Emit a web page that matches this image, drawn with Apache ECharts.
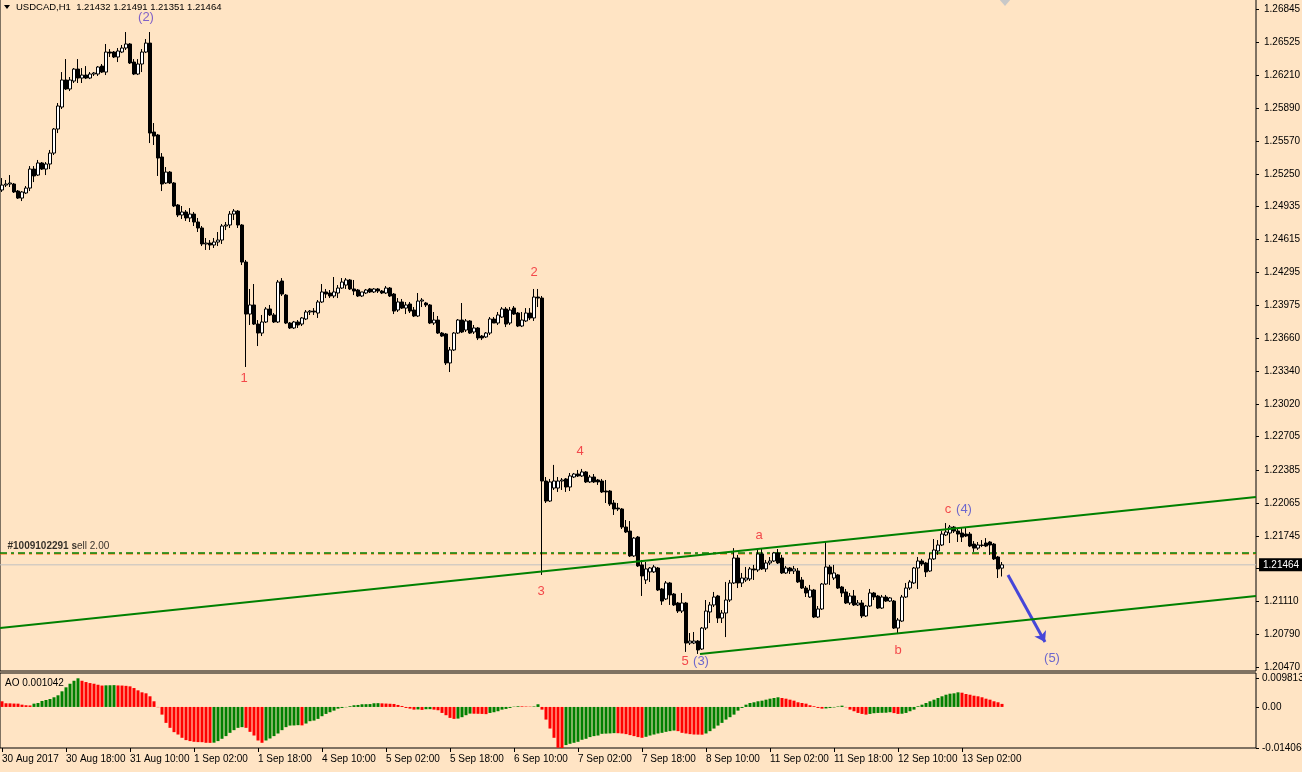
<!DOCTYPE html>
<html>
<head>
<meta charset="utf-8">
<title>USDCAD,H1</title>
<script src="https://cdn.jsdelivr.net/npm/echarts@6/dist/echarts.min.js"></script>
<style>
  html, body { margin: 0; padding: 0; background: #ffe4c4; }
  #chart { width: 1302px; height: 772px; }
</style>
</head>
<body>
<div id="chart"></div>
<script>
const symbolName = 'USDCAD,H1';

// hourly bars from 30 Aug 02:00, each row: [open, high, low, close]
const bars = [
  [1.25096,1.25212,1.25077,1.25144],[1.25144,1.25193,1.25125,1.25154],[1.25154,1.25241,1.25125,1.25164],[1.25154,1.25164,1.25067,1.25077],
  [1.25086,1.25096,1.25009,1.25018],[1.25018,1.25086,1.24989,1.25077],[1.25067,1.25135,1.25057,1.25115],[1.25115,1.25328,1.25086,1.25299],
  [1.25299,1.25328,1.25173,1.25232],[1.25241,1.25387,1.25232,1.25358],[1.25358,1.25367,1.25290,1.25299],[1.25299,1.25367,1.25241,1.25348],
  [1.25348,1.25484,1.25299,1.25454],[1.25454,1.25697,1.25435,1.25687],[1.25687,1.25939,1.25648,1.25910],[1.25900,1.26239,1.25881,1.26162],
  [1.26162,1.26365,1.26065,1.26075],[1.26075,1.26191,1.26055,1.26162],[1.26152,1.26278,1.26133,1.26268],[1.26268,1.26365,1.26133,1.26181],
  [1.26181,1.26278,1.26133,1.26210],[1.26210,1.26297,1.26171,1.26181],[1.26181,1.26239,1.26171,1.26220],[1.26220,1.26239,1.26201,1.26230],
  [1.26220,1.26297,1.26201,1.26288],[1.26297,1.26317,1.26230,1.26239],[1.26239,1.26511,1.26210,1.26433],[1.26433,1.26462,1.26385,1.26423],
  [1.26433,1.26443,1.26375,1.26385],[1.26385,1.26472,1.26336,1.26443],[1.26433,1.26501,1.26423,1.26472],[1.26472,1.26627,1.26453,1.26511],
  [1.26511,1.26520,1.26317,1.26327],[1.26336,1.26365,1.26210,1.26220],[1.26220,1.26365,1.26210,1.26317],[1.26317,1.26462,1.26239,1.26433],
  [1.26433,1.26559,1.26423,1.26520],[1.26520,1.26627,1.25551,1.25648],[1.25658,1.25745,1.25532,1.25619],[1.25629,1.25639,1.25232,1.25406],
  [1.25416,1.25454,1.25086,1.25154],[1.25164,1.25319,1.25154,1.25270],[1.25270,1.25280,1.25154,1.25164],[1.25164,1.25173,1.24931,1.24941],
  [1.24951,1.24960,1.24834,1.24854],[1.24854,1.24941,1.24815,1.24883],[1.24883,1.24902,1.24796,1.24825],[1.24825,1.24921,1.24786,1.24863],
  [1.24863,1.24883,1.24747,1.24786],[1.24786,1.24825,1.24689,1.24728],[1.24728,1.24747,1.24553,1.24573],[1.24573,1.24631,1.24515,1.24582],
  [1.24582,1.24611,1.24515,1.24563],[1.24563,1.24631,1.24534,1.24592],[1.24592,1.24689,1.24553,1.24611],[1.24611,1.24766,1.24573,1.24747],
  [1.24747,1.24786,1.24708,1.24757],[1.24757,1.24892,1.24728,1.24863],[1.24863,1.24912,1.24805,1.24892],[1.24892,1.24902,1.24728,1.24757],
  [1.24757,1.24766,1.24369,1.24398],[1.24398,1.24418,1.23381,1.23894],[1.23894,1.24137,1.23788,1.23982],[1.23982,1.24185,1.23788,1.23797],
  [1.23797,1.23836,1.23584,1.23710],[1.23710,1.23885,1.23681,1.23817],[1.23817,1.23962,1.23807,1.23943],[1.23943,1.23982,1.23875,1.23885],
  [1.23885,1.23904,1.23807,1.23817],[1.23817,1.24224,1.23807,1.24204],[1.24214,1.24243,1.24069,1.24088],[1.24078,1.24088,1.23797,1.23807],
  [1.23807,1.23817,1.23749,1.23759],[1.23759,1.23827,1.23749,1.23817],[1.23817,1.23836,1.23759,1.23788],[1.23797,1.23865,1.23778,1.23856],
  [1.23846,1.23933,1.23836,1.23914],[1.23914,1.23933,1.23885,1.23923],[1.23923,1.23952,1.23885,1.23914],[1.23904,1.24030,1.23856,1.24011],
  [1.24011,1.24185,1.24001,1.24108],[1.24108,1.24137,1.24049,1.24088],[1.24098,1.24127,1.24049,1.24069],[1.24069,1.24253,1.24049,1.24108],
  [1.24098,1.24175,1.24049,1.24146],[1.24146,1.24243,1.24137,1.24204],[1.24175,1.24243,1.24137,1.24224],[1.24224,1.24233,1.24127,1.24137],
  [1.24137,1.24224,1.24078,1.24117],[1.24127,1.24137,1.24059,1.24069],[1.24069,1.24108,1.24059,1.24108],[1.24098,1.24137,1.24088,1.24127],
  [1.24137,1.24146,1.24098,1.24108],[1.24108,1.24146,1.24098,1.24137],[1.24137,1.24146,1.24098,1.24117],[1.24117,1.24127,1.24088,1.24098],
  [1.24098,1.24166,1.24088,1.24146],[1.24146,1.24156,1.24059,1.24069],[1.24088,1.24098,1.23894,1.23923],[1.23933,1.24049,1.23914,1.24011],
  [1.24011,1.24040,1.23943,1.23952],[1.23952,1.24011,1.23894,1.23982],[1.23991,1.24011,1.23904,1.23923],[1.23933,1.23962,1.23865,1.23875],
  [1.23875,1.24098,1.23865,1.24020],[1.24020,1.24049,1.23962,1.24030],[1.24001,1.24011,1.23962,1.23982],[1.23982,1.23991,1.23797,1.23807],
  [1.23807,1.23914,1.23788,1.23836],[1.23836,1.23875,1.23701,1.23710],[1.23710,1.23720,1.23672,1.23681],[1.23701,1.23710,1.23400,1.23420],
  [1.23420,1.23575,1.23332,1.23546],[1.23546,1.23720,1.23536,1.23710],[1.23710,1.23846,1.23701,1.23836],[1.23836,1.24001,1.23710,1.23720],
  [1.23739,1.23846,1.23720,1.23827],[1.23827,1.23836,1.23701,1.23710],[1.23720,1.23788,1.23701,1.23759],[1.23759,1.23768,1.23642,1.23662],
  [1.23681,1.23691,1.23642,1.23662],[1.23672,1.23720,1.23662,1.23710],[1.23710,1.23865,1.23691,1.23846],[1.23846,1.23865,1.23807,1.23807],
  [1.23807,1.23914,1.23788,1.23885],[1.23865,1.23962,1.23856,1.23943],[1.23943,1.23962,1.23768,1.23797],[1.23807,1.23962,1.23788,1.23933],
  [1.23952,1.23972,1.23885,1.23894],[1.23904,1.23914,1.23768,1.23778],[1.23778,1.23914,1.23768,1.23836],[1.23827,1.23952,1.23817,1.23904],
  [1.23904,1.23952,1.23836,1.23856],[1.23856,1.24137,1.23827,1.24059],[1.24059,1.24137,1.23962,1.24049],[1.24049,1.24069,1.21366,1.22276],
  [1.22276,1.22315,1.22063,1.22082],[1.22082,1.22296,1.22073,1.22267],[1.22208,1.22432,1.22189,1.22276],[1.22208,1.22315,1.22170,1.22276],
  [1.22276,1.22305,1.22189,1.22286],[1.22296,1.22305,1.22170,1.22218],[1.22218,1.22354,1.22179,1.22325],[1.22315,1.22354,1.22305,1.22344],
  [1.22344,1.22383,1.22315,1.22325],[1.22325,1.22393,1.22315,1.22364],[1.22364,1.22373,1.22257,1.22267],[1.22267,1.22335,1.22257,1.22315],
  [1.22315,1.22344,1.22257,1.22267],[1.22286,1.22296,1.22238,1.22267],[1.22276,1.22296,1.22160,1.22170],[1.22179,1.22286,1.22063,1.22170],
  [1.22179,1.22189,1.22034,1.22053],[1.22063,1.22092,1.21947,1.22005],[1.22014,1.22063,1.21985,1.22005],[1.22005,1.22014,1.21811,1.21830],
  [1.21830,1.21898,1.21772,1.21782],[1.21791,1.21888,1.21540,1.21550],[1.21550,1.21733,1.21540,1.21723],[1.21733,1.21743,1.21443,1.21453],
  [1.21463,1.21511,1.21162,1.21356],[1.21317,1.21492,1.21278,1.21424],[1.21395,1.21443,1.21298,1.21433],[1.21395,1.21463,1.21385,1.21443],
  [1.21433,1.21443,1.21210,1.21220],[1.21230,1.21239,1.21075,1.21113],[1.21133,1.21307,1.21123,1.21288],[1.21288,1.21298,1.21075,1.21172],
  [1.21181,1.21191,1.21065,1.21075],[1.21094,1.21104,1.20997,1.21016],[1.21016,1.21191,1.20997,1.21094],[1.21094,1.21104,1.20620,1.20706],
  [1.20706,1.20803,1.20687,1.20725],[1.20706,1.20813,1.20696,1.20725],[1.20725,1.20735,1.20600,1.20639],[1.20648,1.20861,1.20639,1.20851],
  [1.20851,1.21123,1.20832,1.21016],[1.21007,1.21104,1.20900,1.21075],[1.21075,1.21201,1.21055,1.21152],[1.21162,1.21172,1.20900,1.20948],
  [1.20948,1.21026,1.20900,1.20997],[1.20997,1.21298,1.20764,1.21123],[1.21123,1.21317,1.21104,1.21288],[1.21288,1.21626,1.21278,1.21530],
  [1.21530,1.21560,1.21239,1.21288],[1.21288,1.21385,1.21249,1.21336],[1.21317,1.21443,1.21298,1.21336],[1.21327,1.21443,1.21307,1.21424],
  [1.21424,1.21463,1.21317,1.21414],[1.21414,1.21608,1.21395,1.21569],[1.21569,1.21617,1.21414,1.21424],[1.21424,1.21511,1.21395,1.21482],
  [1.21482,1.21540,1.21463,1.21501],[1.21501,1.21589,1.21492,1.21579],[1.21579,1.21617,1.21472,1.21482],[1.21530,1.21560,1.21375,1.21385],
  [1.21385,1.21453,1.21375,1.21433],[1.21433,1.21443,1.21375,1.21404],[1.21404,1.21453,1.21375,1.21424],[1.21404,1.21433,1.21288,1.21298],
  [1.21317,1.21346,1.21230,1.21239],[1.21239,1.21259,1.21152,1.21191],[1.21152,1.21269,1.21143,1.21220],[1.21220,1.21230,1.20948,1.20958],
  [1.20958,1.21065,1.20948,1.21036],[1.21036,1.21288,1.21026,1.21278],[1.21278,1.21685,1.21269,1.21443],[1.21443,1.21463,1.21269,1.21375],
  [1.21336,1.21463,1.21317,1.21385],[1.21366,1.21375,1.21230,1.21239],[1.21249,1.21259,1.21152,1.21191],[1.21201,1.21230,1.21084,1.21094],
  [1.21094,1.21191,1.21075,1.21162],[1.21162,1.21220,1.21065,1.21075],[1.21075,1.21123,1.21065,1.21094],[1.21094,1.21123,1.20948,1.20968],
  [1.20968,1.21075,1.20958,1.21065],[1.21065,1.21230,1.21055,1.21191],[1.21191,1.21201,1.21123,1.21152],[1.21162,1.21172,1.21036,1.21045],
  [1.21045,1.21172,1.21036,1.21152],[1.21152,1.21172,1.21104,1.21113],[1.21113,1.21152,1.21104,1.21143],[1.21113,1.21123,1.20842,1.20851],
  [1.20851,1.20948,1.20793,1.20929],[1.20919,1.21172,1.20910,1.21152],[1.21152,1.21288,1.21143,1.21239],[1.21239,1.21317,1.21220,1.21298],
  [1.21288,1.21443,1.21278,1.21433],[1.21433,1.21540,1.21230,1.21501],[1.21501,1.21521,1.21453,1.21472],[1.21482,1.21492,1.21346,1.21395],
  [1.21404,1.21579,1.21395,1.21521],[1.21521,1.21714,1.21511,1.21608],[1.21598,1.21704,1.21560,1.21656],[1.21656,1.21791,1.21646,1.21762],
  [1.21753,1.21869,1.21743,1.21782],[1.21772,1.21850,1.21675,1.21830],[1.21830,1.21840,1.21772,1.21791],[1.21791,1.21811,1.21685,1.21762],
  [1.21772,1.21820,1.21685,1.21733],[1.21762,1.21830,1.21733,1.21743],[1.21762,1.21782,1.21636,1.21646],[1.21665,1.21694,1.21589,1.21626],
  [1.21626,1.21685,1.21608,1.21656],[1.21656,1.21704,1.21636,1.21651],[1.21675,1.21723,1.21636,1.21646],[1.21685,1.21694,1.21560,1.21656],
  [1.21665,1.21675,1.21511,1.21521],[1.21540,1.21550,1.21336,1.21424],[1.21432,1.21491,1.21351,1.21464]
];

// Awesome Oscillator, one value per bar
const aoValues = [
  0.00194,0.00126,0.00123,0.00116,0.00113,0.00078,0.00058,0.00051,0.00113,0.00136,0.00205,0.00239,0.00273,0.00331,0.00399,0.00535,
  0.00672,0.00795,0.00897,0.009813,0.00897,0.00853,0.00818,0.00795,0.00760,0.00733,0.00740,0.00743,0.00747,0.00737,0.00733,0.00723,
  0.00706,0.00648,0.00569,0.00501,0.00467,0.00365,0.00194,-0.00010,-0.00263,-0.00546,-0.00716,-0.00863,-0.00945,-0.01057,-0.01136,-0.01170,
  -0.01194,-0.01204,-0.01207,-0.01228,-0.01231,-0.01224,-0.01170,-0.01091,-0.00999,-0.00887,-0.00795,-0.00716,-0.00692,-0.00716,-0.00853,-0.00979,
  -0.01149,-0.01228,-0.01149,-0.01081,-0.00999,-0.00910,-0.00795,-0.00692,-0.00638,-0.00634,-0.00624,-0.00631,-0.00569,-0.00488,-0.00467,-0.00409,
  -0.00317,-0.00239,-0.00181,-0.00126,-0.00058,-0.00034,-0.00010,0.00024,0.00058,0.00068,0.00092,0.00095,0.00099,0.00126,0.00130,0.00123,
  0.00116,0.00109,0.00102,0.00068,0.00034,-0.00034,-0.00058,-0.00092,-0.00085,-0.00102,-0.00078,-0.00075,-0.00092,-0.00113,-0.00205,-0.00283,
  -0.00375,-0.00409,-0.00399,-0.00351,-0.00283,-0.00228,-0.00232,-0.00235,-0.00239,-0.00246,-0.00205,-0.00181,-0.00147,-0.00092,-0.00068,-0.00034,
  0.00010,0.00024,0.00020,0.00014,0.00010,0.00017,0.00092,-0.00092,-0.00433,-0.00740,-0.01057,-0.01398,-0.014064,-0.01306,-0.01262,-0.01228,
  -0.01194,-0.01125,-0.01091,-0.01033,-0.00999,-0.00979,-0.00921,-0.00914,-0.00907,-0.00897,-0.00900,-0.00910,-0.00931,-0.00965,-0.00999,-0.01033,
  -0.01057,-0.01023,-0.00979,-0.00945,-0.00910,-0.00887,-0.00853,-0.00829,-0.00808,-0.00829,-0.00887,-0.00910,-0.00931,-0.00945,-0.00948,-0.00951,
  -0.00910,-0.00829,-0.00740,-0.00638,-0.00546,-0.00433,-0.00351,-0.00263,-0.00126,-0.00034,0.00078,0.00136,0.00160,0.00194,0.00215,0.00249,
  0.00283,0.00307,0.00331,0.00307,0.00283,0.00249,0.00215,0.00160,0.00136,0.00113,0.00058,0.00024,-0.00034,-0.00058,-0.00051,-0.00034,
  -0.00017,0.00017,0.00044,-0.00010,-0.00092,-0.00147,-0.00205,-0.00239,-0.00263,-0.00239,-0.00215,-0.00205,-0.00201,-0.00198,-0.00181,-0.00211,
  -0.00239,-0.00232,-0.00205,-0.00147,-0.00092,0.00024,0.00078,0.00136,0.00194,0.00249,0.00307,0.00365,0.00419,0.00454,0.00467,0.00501,
  0.00488,0.00443,0.00419,0.00385,0.00365,0.00331,0.00283,0.00249,0.00194,0.00160,0.001042
];

const priceTicks = [1.20470, 1.20790, 1.21110, 1.21430, 1.21745, 1.22065, 1.22385, 1.22705, 1.23020, 1.23340, 1.23660,
  1.23975, 1.24295, 1.24615, 1.24935, 1.25250, 1.25570, 1.25890, 1.26210, 1.26525, 1.26845];
const aoTicks = [-0.014064, 0, 0.009813];
const timeLabels = ['30 Aug 2017', '30 Aug 18:00', '31 Aug 10:00', '1 Sep 02:00', '1 Sep 18:00', '4 Sep 10:00',
  '5 Sep 02:00', '5 Sep 18:00', '6 Sep 10:00', '7 Sep 02:00', '7 Sep 18:00', '8 Sep 10:00', '11 Sep 02:00',
  '11 Sep 18:00', '12 Sep 10:00', '13 Sep 02:00'];

const bidPrice = 1.21464;
const orderPrice = 1.21579;
const orderStopPrice = 1.21569;
const orderText = '#1009102291 sell 2.00';

// trend lines and arrow: [bar position, price]
const channelUpper = [[-0.5, 1.20851], [313.5, 1.22121]];
const channelLower = [[174.5, 1.20600], [313.5, 1.21162]];
const arrowPath = [[251.5, 1.21366], [260.75, 1.20716]];

// wave count: [text, bar position, price, degree]
const waveLabels = [
  ['(2)', 36, 1.26772, 'major'], ['1', 60.5, 1.23274, 'minor'], ['2', 133, 1.24302, 'minor'],
  ['3', 134.75, 1.21210, 'minor'], ['4', 144.5, 1.22567, 'minor'], ['5', 170.75, 1.20523, 'minor'],
  ['(3)', 174.75, 1.20523, 'major'], ['a', 189.25, 1.21753, 'minor'], ['b', 224, 1.20639, 'minor'],
  ['c', 236.5, 1.22005, 'minor'], ['(4)', 240.5, 1.22005, 'major'], ['(5)', 262.5, 1.20561, 'major']
];

const slotCount = 314;
const slots = Array.from({ length: slotCount }, (_, i) => String(i));
const xFirst = -0.5;
const xLast = slotCount - 0.5;
const font = '"Liberation Sans", Arial, sans-serif';
const green = '#008000';
const red = '#ff0000';
const dashDot = [7, 4, 3, 4];

const chart = echarts.init(document.getElementById('chart'));
const last = bars[bars.length - 1];

function hLine(price, style, extra) {
  return Object.assign({
    type: 'line', xAxisIndex: 1, yAxisIndex: 0, symbol: 'none', silent: true,
    data: [[xFirst, price], [xLast, price]],
    lineStyle: style
  }, extra || {});
}

chart.setOption({
  animation: false,
  backgroundColor: '#ffe4c4',
  textStyle: { fontFamily: font },
  title: [
    {
      text: symbolName + '  ' + last.map(v => v.toFixed(5)).join(' '),
      left: 16, top: 2, padding: 0,
      textStyle: { fontSize: 9.5, fontWeight: 'normal', color: '#000', fontFamily: font }
    },
    {
      text: 'AO ' + aoValues[aoValues.length - 1].toFixed(6),
      left: 5, top: 678, padding: 0,
      textStyle: { fontSize: 10, fontWeight: 'normal', color: '#000', fontFamily: font }
    }
  ],
  graphic: [
    { type: 'polygon', shape: { points: [[4, 5], [10, 5], [7, 9]] }, style: { fill: '#000' } },
    { type: 'polygon', shape: { points: [[999, -1], [1011, -1], [1005, 6]] }, style: { fill: '#c8c8c8' } }
  ],
  grid: [
    { left: 0, right: 46, top: -1, height: 672, show: true, borderColor: '#000', borderWidth: 1, outerBoundsMode: 'none' },
    { left: 0, right: 46, top: 673, height: 75, show: true, borderColor: '#000', borderWidth: 1, outerBoundsMode: 'none' }
  ],
  xAxis: [
    { type: 'category', gridIndex: 0, data: slots, boundaryGap: true, show: false, axisLine: { onZero: false } },
    { type: 'value', gridIndex: 0, min: xFirst, max: xLast, show: false, axisLine: { onZero: false } },
    {
      type: 'category', gridIndex: 1, data: slots, boundaryGap: true,
      axisLine: { show: false, onZero: false },
      axisTick: {
        show: true, alignWithLabel: true, length: 4, lineStyle: { color: '#000' },
        interval: (i) => i % 16 === 0 && i / 16 < timeLabels.length
      },
      axisLabel: {
        color: '#000', fontSize: 10, align: 'left', margin: 6, fontFamily: font,
        interval: (i) => i % 16 === 0 && i / 16 < timeLabels.length,
        formatter: (v, i) => timeLabels[i / 16] || ''
      },
      splitLine: { show: false }
    }
  ],
  yAxis: [
    {
      type: 'value', gridIndex: 0, position: 'right',
      min: 1.20435, max: 1.26947,
      axisLine: { show: false, onZero: false },
      axisTick: { show: true, length: 3, lineStyle: { color: '#000' }, customValues: priceTicks },
      axisLabel: {
        color: '#000', fontSize: 10, margin: 8, fontFamily: font,
        customValues: priceTicks, formatter: v => v.toFixed(5)
      },
      splitLine: { show: false }
    },
    {
      type: 'value', gridIndex: 1, position: 'right',
      min: -0.014064, max: 0.011629,
      axisLine: { show: false, onZero: false },
      axisTick: { show: true, length: 3, lineStyle: { color: '#000' }, customValues: aoTicks },
      axisLabel: {
        color: '#000', fontSize: 10, margin: 6, fontFamily: font,
        customValues: aoTicks, formatter: v => (v === 0 ? '0.00' : v.toFixed(6))
      },
      splitLine: { show: false }
    }
  ],
  series: [
    hLine(bidPrice, { color: '#c0c0c0', width: 1 }, {
      z: 1,
      endLabel: {
        show: true, distance: 3, formatter: bidPrice.toFixed(5),
        backgroundColor: '#000', color: '#fff', fontSize: 10, padding: [2, 4, 1, 4], fontFamily: font
      }
    }),
    hLine(orderStopPrice, { color: '#ff6000', width: 1, type: dashDot }, { z: 1 }),
    hLine(orderPrice, { color: green, width: 1.5, type: dashDot }, { z: 1 }),
    {
      type: 'candlestick',
      xAxisIndex: 0, yAxisIndex: 0, z: 2,
      barWidth: 3,
      data: bars.map(b => [b[0], b[3], b[2], b[1]]),
      itemStyle: { color: '#ffffff', color0: '#000000', borderColor: '#000000', borderColor0: '#000000', borderWidth: 1 }
    },
    {
      type: 'line', xAxisIndex: 1, yAxisIndex: 0, data: channelUpper, z: 3,
      symbol: 'none', silent: true, lineStyle: { color: green, width: 2 }
    },
    {
      type: 'line', xAxisIndex: 1, yAxisIndex: 0, data: channelLower, z: 3,
      symbol: 'none', silent: true, lineStyle: { color: green, width: 2 }
    },
    {
      type: 'lines', coordinateSystem: 'cartesian2d', xAxisIndex: 1, yAxisIndex: 0, z: 3,
      symbol: ['none', 'arrow'], symbolSize: 10, silent: true,
      lineStyle: { color: '#4646d8', width: 3, opacity: 1 },
      data: [{ coords: arrowPath }]
    },
    {
      type: 'scatter', xAxisIndex: 1, yAxisIndex: 0, symbolSize: 1, silent: true, z: 4,
      itemStyle: { color: 'rgba(0,0,0,0)' },
      label: { show: true, position: 'inside', fontSize: 13, fontFamily: font, formatter: p => p.name },
      data: waveLabels.map(w => ({
        name: w[0], value: [w[1], w[2]],
        label: { color: w[3] === 'major' ? (w[0] === '(2)' ? '#6040c8' : '#4848d0') : '#f0202c' }
      }))
    },
    {
      type: 'scatter', xAxisIndex: 1, yAxisIndex: 0, symbolSize: 1, silent: true, z: 4,
      itemStyle: { color: 'rgba(0,0,0,0)' },
      data: [[xFirst, orderPrice]],
      label: {
        show: true, position: 'right', distance: 0, offset: [7, -7],
        formatter: '{b|' + orderText.slice(0, 13) + '}{n|' + orderText.slice(13) + '}',
        rich: {
          b: { fontWeight: 'bold', fontSize: 10, color: '#000', fontFamily: font },
          n: { fontSize: 10, color: '#000', fontFamily: font }
        }
      }
    },
    {
      type: 'bar', xAxisIndex: 2, yAxisIndex: 1, barWidth: 3, silent: true,
      data: aoValues.map((v, i) => ({
        value: v,
        itemStyle: { color: i > 0 && v >= aoValues[i - 1] ? green : red }
      }))
    }
  ]
});
</script>
</body>
</html>
